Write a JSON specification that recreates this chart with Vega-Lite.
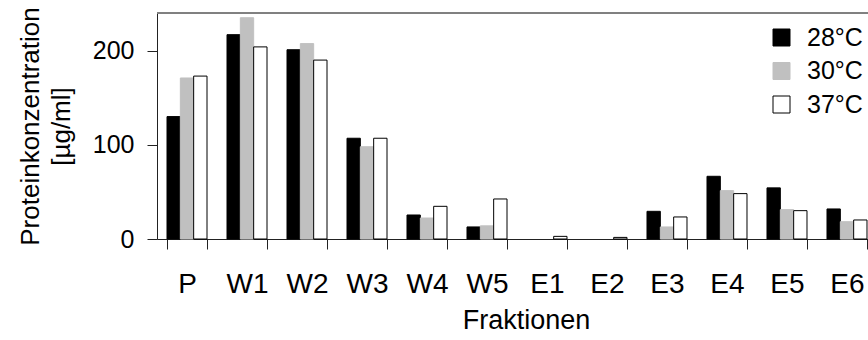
{
  "$schema": "https://vega.github.io/schema/vega-lite/v6.json",
  "width": 711,
  "height": 226,
  "autosize": {"type": "none"},
  "padding": {"left": 157, "top": 13, "right": 0, "bottom": 101},
  "background": "white",
  "config": {
    "font": "Liberation Sans",
    "view": {"stroke": null},
    "axis": {"grid": false, "domainColor": "#222", "tickColor": "#222", "labelColor": "#000", "titleColor": "#000", "titleFontWeight": "normal", "domainWidth": 1, "tickWidth": 1}
  },
  "data": {
    "values": [
      {"fraction": "P", "temp": "28°C", "value": 130},
      {"fraction": "P", "temp": "30°C", "value": 171},
      {"fraction": "P", "temp": "37°C", "value": 173},
      {"fraction": "W1", "temp": "28°C", "value": 217},
      {"fraction": "W1", "temp": "30°C", "value": 235},
      {"fraction": "W1", "temp": "37°C", "value": 204},
      {"fraction": "W2", "temp": "28°C", "value": 201},
      {"fraction": "W2", "temp": "30°C", "value": 207.5},
      {"fraction": "W2", "temp": "37°C", "value": 190},
      {"fraction": "W3", "temp": "28°C", "value": 107},
      {"fraction": "W3", "temp": "30°C", "value": 98},
      {"fraction": "W3", "temp": "37°C", "value": 107},
      {"fraction": "W4", "temp": "28°C", "value": 25.5},
      {"fraction": "W4", "temp": "30°C", "value": 22.3},
      {"fraction": "W4", "temp": "37°C", "value": 34.7},
      {"fraction": "W5", "temp": "28°C", "value": 12.8},
      {"fraction": "W5", "temp": "30°C", "value": 14},
      {"fraction": "W5", "temp": "37°C", "value": 42.5},
      {"fraction": "E1", "temp": "28°C", "value": 0},
      {"fraction": "E1", "temp": "30°C", "value": 0},
      {"fraction": "E1", "temp": "37°C", "value": 2.8},
      {"fraction": "E2", "temp": "28°C", "value": 0},
      {"fraction": "E2", "temp": "30°C", "value": 0},
      {"fraction": "E2", "temp": "37°C", "value": 1.7},
      {"fraction": "E3", "temp": "28°C", "value": 29.4},
      {"fraction": "E3", "temp": "30°C", "value": 12.8},
      {"fraction": "E3", "temp": "37°C", "value": 23.4},
      {"fraction": "E4", "temp": "28°C", "value": 66.6},
      {"fraction": "E4", "temp": "30°C", "value": 51.4},
      {"fraction": "E4", "temp": "37°C", "value": 48.2},
      {"fraction": "E5", "temp": "28°C", "value": 54.3},
      {"fraction": "E5", "temp": "30°C", "value": 31.2},
      {"fraction": "E5", "temp": "37°C", "value": 30.1},
      {"fraction": "E6", "temp": "28°C", "value": 31.9},
      {"fraction": "E6", "temp": "30°C", "value": 18.4},
      {"fraction": "E6", "temp": "37°C", "value": 20.2}
    ]
  },
  "layer": [
    {
      "mark": {"type": "rule", "color": "#808080", "strokeWidth": 1},
      "encoding": {"y": {"datum": 240}}
    },
    {
      "mark": {"type": "bar", "strokeWidth": 1},
      "encoding": {
        "x": {
          "field": "fraction",
          "type": "nominal",
          "sort": null,
          "scale": {"range": [0, 720], "paddingInner": 0.3333, "paddingOuter": 0.1667},
          "axis": {
            "title": "Fraktionen",
            "labelAngle": 0,
            "labelFontSize": 28,
            "titleFontSize": 27,
            "tickSize": 10,
            "tickBand": "extent",
            "labelPadding": 21,
            "titleX": 369,
            "titleY": 68,
            "titleBaseline": "top"
          }
        },
        "xOffset": {"field": "temp", "type": "nominal", "sort": null, "scale": {"paddingInner": 0, "paddingOuter": 0}},
        "y": {
          "field": "value",
          "type": "quantitative",
          "scale": {"domain": [0, 240], "nice": false, "zero": true},
          "axis": {
            "values": [0, 100, 200],
            "title": ["Proteinkonzentration", "[µg/ml]"],
            "titleFontSize": 26,
            "titleLineHeight": 31,
            "titlePadding": 18,
            "labelFontSize": 25,
            "labelPadding": 13,
            "tickSize": 10
          }
        },
        "fill": {
          "field": "temp",
          "type": "nominal",
          "sort": null,
          "scale": {"domain": ["28°C", "30°C", "37°C"], "range": ["#000000", "#c0c0c0", "#ffffff"]},
          "legend": {
            "title": null,
            "orient": "none",
            "legendX": 612,
            "legendY": 12,
            "padding": 0,
            "symbolType": "square",
            "symbolSize": 289,
            "symbolStrokeWidth": 1,
            "labelFontSize": 25,
            "labelOffset": 13,
            "rowPadding": 7.5,
            "labelColor": "#000"
          }
        },
        "stroke": {
          "field": "temp",
          "type": "nominal",
          "sort": null,
          "scale": {"domain": ["28°C", "30°C", "37°C"], "range": ["#000000", "#c0c0c0", "#000000"]},
          "legend": null
        },
        "strokeOpacity": {"condition": {"test": "datum.value > 0", "value": 1}, "value": 0}
      }
    }
  ]
}
